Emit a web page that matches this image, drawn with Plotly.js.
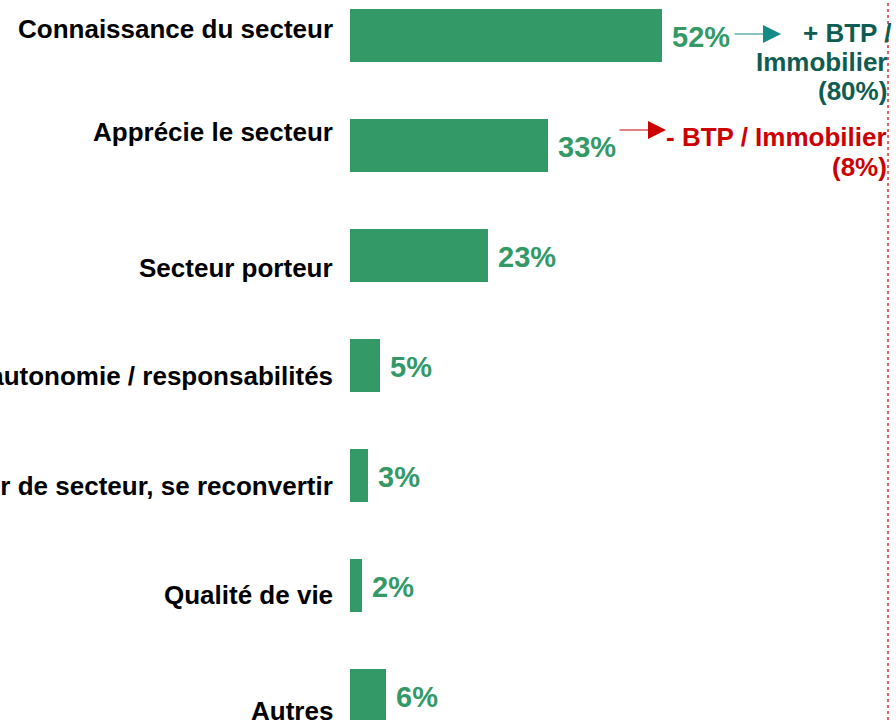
<!DOCTYPE html>
<html>
<head>
<meta charset="utf-8">
<script src="https://cdn.plot.ly/plotly-3.0.1.min.js"></script>
<style>html,body{margin:0;padding:0;background:#fff;}#chart{width:896px;height:720px;}</style>
</head>
<body>
<div id="chart"></div>
<script>
// ---- data ----
const categories = [
  "Connaissance du secteur",
  "Apprécie le secteur",
  "Secteur porteur",
  "Plus d'autonomie / responsabilités",
  "Changer de secteur, se reconvertir",
  "Qualité de vie",
  "Autres"
];
const values = [52, 33, 23, 5, 3, 2, 6];
const valueLabels = ["52%", "33%", "23%", "5%", "3%", "2%", "6%"];
const highNote = ["+ BTP /", "Immobilier", "(80%)"];
const lowNote = ["- BTP / Immobilier", "(8%)"];

// ---- layout helpers (pixel positions) ----
const W = 896, H = 720, L = 350;
const XMAX = 91;
const pxX = px => (px - L) / (W - L) * XMAX;  // data x from pixel
const pxY = py => 1 - py / H;                 // paper y from pixel
const labelShift = [7, 14, -12, -10, -10, -9, -15];
const highNoteY = [33, 62, 91];
const lowNoteY = [137, 167];

const GREEN = "#339966";
const FONT = "Arial, 'Liberation Sans', sans-serif";

const trace = {
  type: "bar",
  orientation: "h",
  x: values,
  y: categories,
  width: 0.482,
  marker: {color: GREEN},
  hoverinfo: "skip"
};

const annotations = [];
categories.forEach((c, i) => {
  annotations.push({
    xref: "paper", yref: "y", x: 0, y: c, xanchor: "right", yanchor: "middle",
    xshift: -15, yshift: labelShift[i], showarrow: false, text: "<b>" + c + "</b>",
    font: {family: FONT, size: 26, color: "#000"}, align: "right"
  });
  annotations.push({
    xref: "x", yref: "y", x: values[i], y: c, xanchor: "left", yanchor: "middle",
    xshift: 8, yshift: -1.5, showarrow: false, text: "<b>" + valueLabels[i] + "</b>",
    font: {family: FONT, size: 29, color: GREEN}
  });
});

// arrows
annotations.push({
  xref: "x", yref: "paper", x: pxX(781), y: pxY(34), ax: pxX(733), ay: pxY(34),
  axref: "x", ayref: "paper", text: "", showarrow: true,
  arrowhead: 2, arrowsize: 3.6, arrowwidth: 1, arrowcolor: "#138a86"
});
annotations.push({
  xref: "x", yref: "paper", x: pxX(666), y: pxY(130), ax: pxX(618), ay: pxY(130),
  axref: "x", ayref: "paper", text: "", showarrow: true,
  arrowhead: 2, arrowsize: 3.6, arrowwidth: 1, arrowcolor: "#cc0000"
});
// notes, one line each
highNote.forEach((s, i) => annotations.push({
  xref: "x", yref: "paper", x: pxX(i === 0 ? 893 : 889), y: pxY(highNoteY[i]),
  xanchor: "right", yanchor: "middle", showarrow: false, text: "<b>" + s + "</b>",
  font: {family: FONT, size: 26, color: "#0e5c52"}
}));
lowNote.forEach((s, i) => annotations.push({
  xref: "x", yref: "paper", x: pxX(889), y: pxY(lowNoteY[i]),
  xanchor: "right", yanchor: "middle", showarrow: false, text: "<b>" + s + "</b>",
  font: {family: FONT, size: 26, color: "#cc0000"}
}));

const layout = {
  width: W, height: H,
  margin: {l: L, r: 0, t: 0, b: 0, pad: 0},
  paper_bgcolor: "#fff", plot_bgcolor: "#fff",
  showlegend: false,
  xaxis: {range: [0, XMAX], visible: false, fixedrange: true},
  yaxis: {type: "category", categoryorder: "array", categoryarray: categories,
          range: [6.2227, -0.3227], visible: false, fixedrange: true},
  shapes: [{
    type: "line", xref: "x", yref: "paper", x0: pxX(888), x1: pxX(888), y0: 0, y1: 1,
    line: {color: "#e06666", width: 2, dash: "dot"}
  }],
  annotations: annotations
};

Plotly.newPlot("chart", [trace], layout, {staticPlot: true, displayModeBar: false});
</script>
</body>
</html>
